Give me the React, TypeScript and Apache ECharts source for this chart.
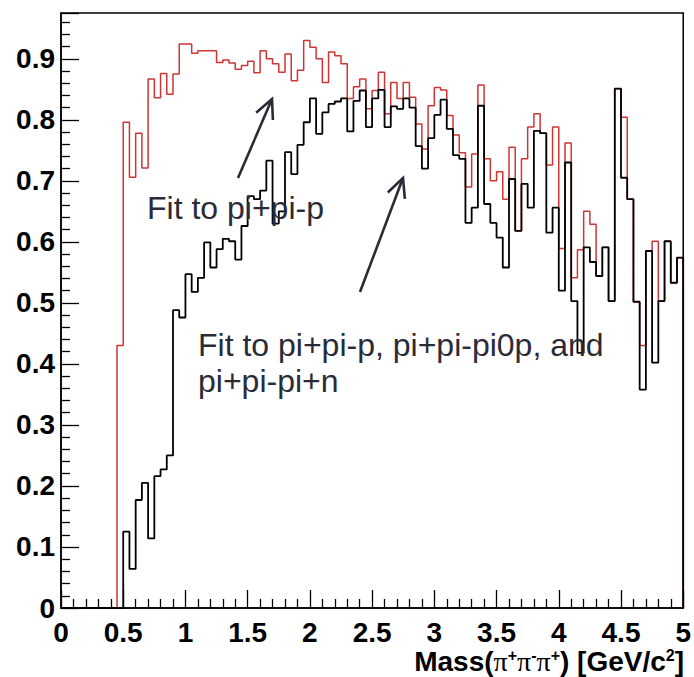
import React, { useEffect, useRef } from "react";
import * as echarts from "echarts";

// Histogram: 100 bins of width 0.05 GeV/c^2 from 0 to 5
const BIN_WIDTH = 0.05;
const X_MIN = 0;
const X_MAX = 5;
const Y_MAX = 0.975;

// Fit to pi+pi-p (red)
const redValues = [
  0, 0, 0, 0, 0, 0, 0, 0, 0, 0.43,
  0.796, 0.706, 0.778, 0.721, 0.867, 0.836, 0.876, 0.842, 0.875, 0.924,
  0.924, 0.909, 0.913, 0.913, 0.913, 0.894, 0.898, 0.893, 0.883, 0.889,
  0.896, 0.877, 0.913, 0.9, 0.892, 0.878, 0.908, 0.864, 0.881, 0.93,
  0.919, 0.9, 0.861, 0.911, 0.905, 0.892, 0.835, 0.854, 0.867, 0.818,
  0.848, 0.878, 0.81, 0.861, 0.835, 0.861, 0.837, 0.793, 0.752, 0.823,
  0.853, 0.849, 0.807, 0.775, 0.746, 0.69, 0.744, 0.857, 0.736, 0.7,
  0.715, 0.67, 0.755, 0.618, 0.736, 0.788, 0.81, 0.778, 0.726, 0.788,
  0.589, 0.762, 0.541, 0.587, 0.65, 0.629, 0.544, 0.591, 0.503, 0.851,
  0.804, 0.67, 0.501, 0.43, 0.585, 0.601, 0.503, 0.601, 0.533, 0.574,
];

// Fit to pi+pi-p, pi+pi-pi0p, and pi+pi-pi+n (black)
const blackValues = [
  0, 0, 0, 0, 0, 0, 0, 0, 0, 0,
  0.125, 0.064, 0.177, 0.205, 0.114, 0.216, 0.227, 0.25, 0.488, 0.476,
  0.547, 0.518, 0.541, 0.599, 0.558, 0.588, 0.605, 0.601, 0.571, 0.626,
  0.675, 0.67, 0.684, 0.733, 0.63, 0.65, 0.747, 0.711, 0.759, 0.796,
  0.835, 0.777, 0.812, 0.826, 0.83, 0.835, 0.781, 0.831, 0.848, 0.788,
  0.835, 0.849, 0.788, 0.822, 0.818, 0.835, 0.82, 0.757, 0.72, 0.77,
  0.808, 0.833, 0.785, 0.742, 0.736, 0.631, 0.656, 0.823, 0.662, 0.631,
  0.607, 0.558, 0.703, 0.618, 0.695, 0.656, 0.782, 0.778, 0.615, 0.656,
  0.52, 0.73, 0.503, 0.418, 0.591, 0.567, 0.544, 0.591, 0.503, 0.851,
  0.705, 0.67, 0.502, 0.358, 0.585, 0.402, 0.503, 0.601, 0.533, 0.574,
];

const labelRed = "Fit to pi+pi-p";
const labelBlackLine1 = "Fit to pi+pi-p, pi+pi-pi0p, and";
const labelBlackLine2 = "pi+pi-pi+n";

function histPoints(vals: number[]): number[][] {
  const pts: number[][] = [[X_MIN, 0]];
  vals.forEach((v, i) => {
    pts.push([+(i * BIN_WIDTH).toFixed(4), v]);
    pts.push([+((i + 1) * BIN_WIDTH).toFixed(4), v]);
  });
  pts.push([X_MAX, 0]);
  return pts;
}

function arrow(x1: number, y1: number, x2: number, y2: number, color: string) {
  const ang = Math.atan2(y2 - y1, x2 - x1);
  const len = 21;
  const spread = 0.45;
  const a1 = ang + Math.PI - spread;
  const a2 = ang + Math.PI + spread;
  return [
    {
      type: "line",
      shape: { x1, y1, x2, y2 },
      style: { stroke: color, lineWidth: 2.6 },
    },
    {
      type: "polyline",
      shape: {
        points: [
          [x2 + len * Math.cos(a1), y2 + len * Math.sin(a1)],
          [x2, y2],
          [x2 + len * Math.cos(a2), y2 + len * Math.sin(a2)],
        ],
      },
      style: { stroke: color, lineWidth: 2.6, fill: null },
    },
  ];
}

export default function App() {
  const ref = useRef<HTMLDivElement>(null);
  useEffect(() => {
    if (!ref.current) return;
    const chart = echarts.init(ref.current, null, { renderer: "svg" });
    const labelFont = "'Liberation Sans', Arial, Helvetica, sans-serif";
    const annColor = "#2b2b38";
    const tickStyle = { color: "#000", width: 1.3 };
    const axisLabelStyle = {
      color: "#000",
      fontSize: 28,
      lineHeight: 28,
      fontWeight: "bold" as const,
      fontFamily: labelFont,
    };
    chart.setOption({
      animation: false,
      backgroundColor: "#fff",
      grid: {
        left: 61,
        right: 10,
        top: 13,
        bottom: 69,
        show: true,
        borderColor: "#000",
        borderWidth: 1.5,
        backgroundColor: "transparent",
      },
      xAxis: {
        type: "value",
        min: X_MIN,
        max: X_MAX,
        interval: 0.5,
        axisLine: { show: true, lineStyle: { color: "#000", width: 1.5 } },
        axisTick: { show: true, inside: true, length: 18, lineStyle: tickStyle },
        minorTick: { show: true, splitNumber: 5, length: 9, lineStyle: tickStyle },
        splitLine: { show: false },
        axisLabel: {
          ...axisLabelStyle,
          margin: 10,
          formatter: (v: number) => String(Math.round(v * 10) / 10),
        },
      },
      yAxis: {
        type: "value",
        min: 0,
        max: Y_MAX,
        interval: 0.1,
        axisLine: { show: true, lineStyle: { color: "#000", width: 1.5 } },
        axisTick: { show: true, inside: true, length: 18, lineStyle: tickStyle },
        minorTick: { show: true, splitNumber: 5, length: 9, lineStyle: tickStyle },
        splitLine: { show: false },
        axisLabel: {
          ...axisLabelStyle,
          margin: 6,
          showMaxLabel: false,
          formatter: (v: number) => String(Math.round(v * 10) / 10),
        },
      },
      series: [
        {
          name: labelRed,
          type: "line",
          data: histPoints(redValues),
          showSymbol: false,
          symbol: "none",
          silent: true,
          lineStyle: { color: "#d03535", width: 1.5 },
          z: 2,
        },
        {
          name: labelBlackLine1 + " " + labelBlackLine2,
          type: "line",
          data: histPoints(blackValues),
          showSymbol: false,
          symbol: "none",
          silent: true,
          lineStyle: { color: "#000", width: 1.8 },
          z: 3,
        },
      ],
      graphic: [
        {
          type: "text",
          x: 684,
          y: 661,
          z: 10,
          style: {
            text: "{a|Mass(}{p|π}{s|+}{p|π}{s|-}{p|π}{s|+}{a|) [GeV/c}{s|2}{a|]}",
            align: "right",
            verticalAlign: "middle",
            rich: {
              a: {
                fontFamily: labelFont,
                fontWeight: "bold",
                fontSize: 28,
                lineHeight: 28,
                fill: "#000",
              },
              p: {
                fontFamily: "'Liberation Serif', 'Times New Roman', serif",
                fontSize: 28,
                lineHeight: 28,
                fill: "#000",
              },
              s: {
                fontFamily: labelFont,
                fontWeight: "bold",
                fontSize: 16,
                lineHeight: 16,
                verticalAlign: "top",
                fill: "#000",
              },
            },
          },
        },
        {
          type: "text",
          x: 147,
          y: 208,
          z: 10,
          style: {
            text: labelRed,
            fontFamily: labelFont,
            fontSize: 32,
            fill: annColor,
            verticalAlign: "middle",
          },
        },
        {
          type: "text",
          x: 198,
          y: 345,
          z: 10,
          style: {
            text: labelBlackLine1,
            fontFamily: labelFont,
            fontSize: 32,
            fill: annColor,
            verticalAlign: "middle",
          },
        },
        {
          type: "text",
          x: 198,
          y: 381,
          z: 10,
          style: {
            text: labelBlackLine2,
            fontFamily: labelFont,
            fontSize: 32,
            fill: annColor,
            verticalAlign: "middle",
          },
        },
        ...arrow(238, 178, 272, 99, annColor),
        ...arrow(360, 292, 403, 178, annColor),
      ],
    });
    return () => chart.dispose();
  }, []);
  return (
    <div
      ref={ref}
      style={{ position: "fixed", left: 0, top: 0, width: 694, height: 677, background: "#fff" }}
    />
  );
}
